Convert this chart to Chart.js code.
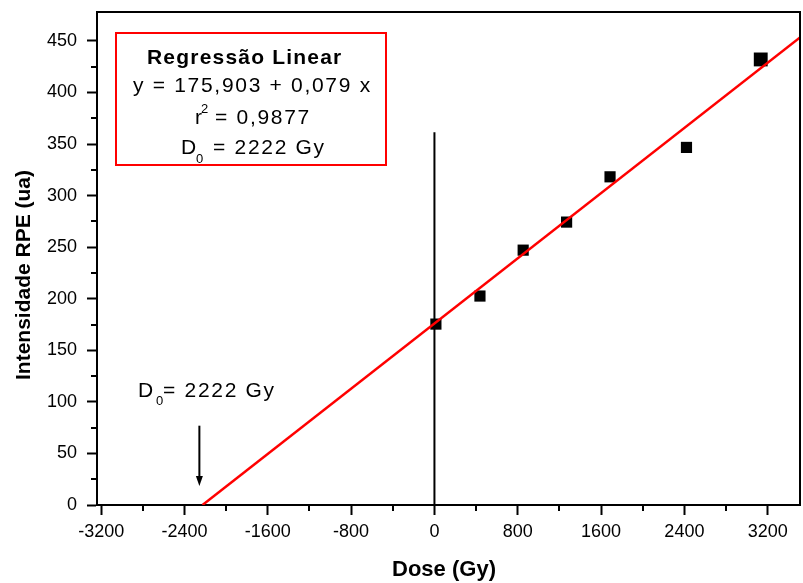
<!DOCTYPE html>
<html>
<head>
<meta charset="utf-8">
<script src="https://cdn.jsdelivr.net/npm/chart.js@4/dist/chart.umd.min.js"></script>
<style>
html,body{margin:0;padding:0;background:#fff;}
#c{display:block;}
</style>
</head>
<body>
<canvas id="c" width="803" height="583"></canvas>
<script>
// ---- data ----
const doses = [14, 437, 852, 1269, 1686, 2420, 3133];
const intensities = [175.4, 202.6, 247.1, 274.3, 318.2, 346.7, 432];
const fitLineX = [-2227, 3510];
const fitLineY = [0, 453.3];
const zeroLineX = [0, 0];
const zeroLineY = [0, 361.5];
const arrowX = [-2257, -2257];
const arrowY = [76.9, 18.4];
const xTickValues = [-3200, -2400, -1600, -800, 0, 800, 1600, 2400, 3200];
const xMinorValues = [-2800, -2000, -1200, -400, 400, 1200, 2000, 2800];
const yTickValues = [0, 50, 100, 150, 200, 250, 300, 350, 400, 450];
const yMinorValues = [25, 75, 125, 175, 225, 275, 325, 375, 425];
const xTitle = 'Dose (Gy)';
const yTitle = 'Intensidade RPE (ua)';

const FONT = '"Liberation Sans", Arial, sans-serif';

const zip = (xs, ys) => xs.map((x, i) => ({x, y: ys[i]}));

const decor = {
  id: 'decor',
  afterDraw(chart) {
    const {ctx, chartArea: a, scales: {x, y}} = chart;
    ctx.save();
    // frame top/right
    ctx.strokeStyle = '#000';
    ctx.lineWidth = 2;
    ctx.beginPath();
    ctx.moveTo(a.left, a.top); ctx.lineTo(a.right, a.top); ctx.lineTo(a.right, a.bottom);
    ctx.stroke();
    // minor ticks
    ctx.beginPath();
    xMinorValues.forEach(v => {
      const px = Math.round(x.getPixelForValue(v));
      ctx.moveTo(px, a.bottom); ctx.lineTo(px, a.bottom + 6);
    });
    yMinorValues.forEach(v => {
      const py = Math.round(y.getPixelForValue(v));
      ctx.moveTo(a.left, py); ctx.lineTo(a.left - 6, py);
    });
    ctx.stroke();

    // arrow
    const ax = x.getPixelForValue(arrowX[0]);
    const ay0 = y.getPixelForValue(arrowY[0]);
    const ay1 = y.getPixelForValue(arrowY[1]);
    ctx.beginPath();
    ctx.moveTo(ax, ay0); ctx.lineTo(ax, ay1 - 8);
    ctx.stroke();
    ctx.fillStyle = '#000';
    ctx.beginPath();
    ctx.moveTo(ax - 3.5, ay1 - 10); ctx.lineTo(ax + 3.5, ay1 - 10); ctx.lineTo(ax, ay1);
    ctx.closePath(); ctx.fill();

    // axis titles
    ctx.fillStyle = '#000';
    ctx.font = 'bold 22px ' + FONT;
    ctx.textAlign = 'center';
    ctx.textBaseline = 'alphabetic';
    ctx.fillText(xTitle, 444, 576);
    ctx.font = 'bold 21px ' + FONT;
    ctx.save();
    ctx.translate(30, 275);
    ctx.rotate(-Math.PI / 2);
    ctx.fillText(yTitle, 0, 0);
    ctx.restore();

    // regression box
    ctx.strokeStyle = '#ff0000';
    ctx.lineWidth = 2;
    ctx.strokeRect(116, 33, 270, 132);
    ctx.fillStyle = '#000';
    ctx.textAlign = 'left';
    ctx.font = 'bold 21px ' + FONT;
    ctx.letterSpacing = '1.2px';
    ctx.fillText('Regressão Linear', 147, 64);
    ctx.font = '21px ' + FONT;
    ctx.letterSpacing = '1.7px';
    ctx.fillText('y = 175,903 + 0,079 x', 133, 92);
    ctx.fillText('r', 195, 124);
    ctx.fillText('= 0,9877', 215, 124);
    ctx.fillText('D', 181, 154);
    ctx.fillText('= 2222 Gy', 213, 154);
    ctx.letterSpacing = '0px';
    ctx.font = '13px ' + FONT;
    ctx.fillText('2', 201, 113);
    ctx.fillText('0', 196, 163);

    // annotation
    ctx.font = '21px ' + FONT;
    ctx.fillText('D', 138, 397);
    ctx.letterSpacing = '1.7px';
    ctx.fillText('= 2222 Gy', 163, 397);
    ctx.letterSpacing = '0px';
    ctx.font = '13px ' + FONT;
    ctx.fillText('0', 156, 405);
    ctx.restore();
  }
};

const axisCommon = {
  type: 'linear',
  grid: {display: true, drawOnChartArea: false, drawTicks: true, tickLength: 10, tickWidth: 2, tickColor: '#000'},
  border: {display: true, color: '#000', width: 2},
  ticks: {color: '#000', font: {family: FONT, size: 18}, autoSkip: false, maxRotation: 0,
          callback: v => String(v)}
};

new Chart(document.getElementById('c'), {
  type: 'scatter',
  data: {
    datasets: [
      {
        label: 'fit',
        data: zip(fitLineX, fitLineY),
        showLine: true, borderColor: '#ff0000', borderWidth: 2.5, pointRadius: 0,
        order: 0
      },
      {
        label: 'data',
        data: zip(doses, intensities),
        pointStyle: 'rect', backgroundColor: '#000', borderColor: '#000', borderWidth: 0,
        pointRadius: c => (c.dataIndex === doses.length - 1 ? 9.8 : 7.9),
        order: 1
      },
      {
        label: 'zero',
        data: zip(zeroLineX, zeroLineY),
        showLine: true, borderColor: '#000', borderWidth: 2, pointRadius: 0,
        order: 2
      }
    ]
  },
  options: {
    responsive: false,
    animation: false,
    devicePixelRatio: 1,
    layout: {autoPadding: false, padding: {top: 12, right: 3, left: 0, bottom: 0}},
    plugins: {legend: {display: false}, tooltip: {enabled: false}, title: {display: false}},
    scales: {
      x: Object.assign({}, axisCommon, {
        min: -3240, max: 3510,
        ticks: Object.assign({}, axisCommon.ticks, {padding: 6}),
        afterBuildTicks: s => { s.ticks = xTickValues.map(v => ({value: v})); },
        afterFit: s => { s.height = 78; s.paddingLeft = 0; s.paddingRight = 0; }
      }),
      y: Object.assign({}, axisCommon, {
        min: 0, max: 478,
        ticks: Object.assign({}, axisCommon.ticks, {padding: 10}),
        afterBuildTicks: s => { s.ticks = yTickValues.map(v => ({value: v})); },
        afterFit: s => { s.width = 97; s.paddingTop = 0; s.paddingBottom = 0; }
      })
    }
  },
  plugins: [decor]
});
</script>
</body>
</html>
